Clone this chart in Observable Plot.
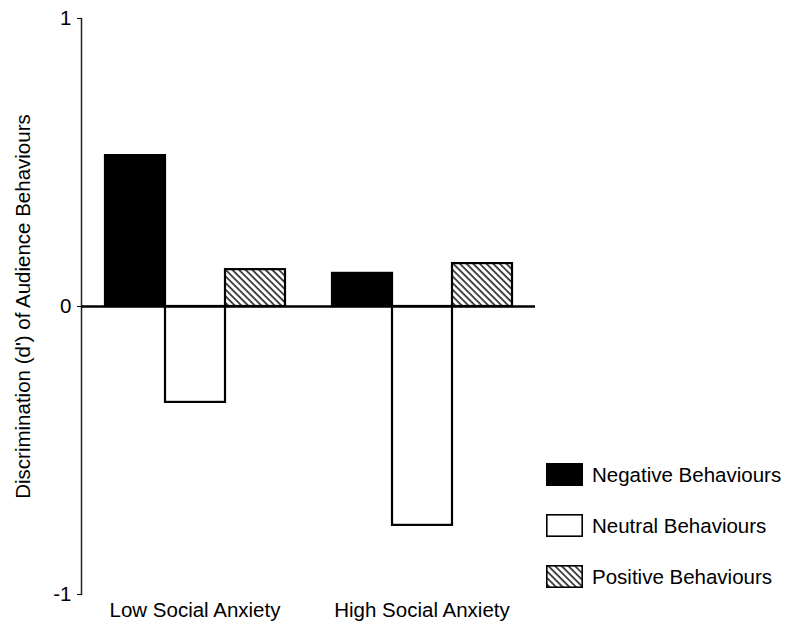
<!DOCTYPE html>
<html><head><meta charset="utf-8">
<script src="https://cdn.jsdelivr.net/npm/d3@7"></script>
<script src="https://cdn.jsdelivr.net/npm/@observablehq/plot@0.6"></script>
<style>
body{margin:0;background:#fff;}
#wrap{position:relative;width:785px;height:627px;font-family:"Liberation Sans",Arial,sans-serif;color:#000;}
.row{position:absolute;left:546px;display:flex;align-items:center;height:23px;font-size:20.5px;white-space:nowrap;}
.row svg{margin-right:9px;display:block;}
</style></head><body><div id="wrap"></div>
<script>
const groups = ["Low Social Anxiety", "High Social Anxiety"];
const behaviours = ["Negative Behaviours", "Neutral Behaviours", "Positive Behaviours"];
const lowValues = [0.524, -0.333, 0.128];
const highValues = [0.115, -0.76, 0.149];
const yTicks = [-1, 0, 1];
const fills = ["black", "white", "url(#hatch)"];
const yLabel = "Discrimination (d') of Audience Behaviours";

const data = [
  ...lowValues.map((v, i) => ({group: groups[0], behaviour: behaviours[i], value: v})),
  ...highValues.map((v, i) => ({group: groups[1], behaviour: behaviours[i], value: v}))
];

const chart = Plot.plot({
  width: 785, height: 627,
  marginLeft: 80, marginRight: 250, marginTop: 18, marginBottom: 33,
  style: {fontFamily: "Liberation Sans, Arial, sans-serif", fontSize: "20.5px", color: "black", background: "white"},
  fx: {domain: groups, padding: 0, axis: "bottom", label: null, tickSize: 0, tickPadding: 8},
  x: {domain: behaviours, paddingInner: 0, paddingOuter: 0.365, axis: null},
  y: {domain: [-1, 1], ticks: yTicks, tickFormat: d => d < 0 ? "-" + Math.abs(d) : String(d),
      tickSize: 4, tickPadding: 6, label: yLabel, labelAnchor: "center", labelOffset: 66, labelArrow: "none"},
  color: {domain: behaviours, range: fills},
  marks: [
    Plot.frame({anchor: "left", facetAnchor: "left", stroke: "#222", strokeWidth: 1.5}),
    Plot.barY(data, {fx: "group", x: "behaviour", y: "value", fill: "behaviour", stroke: "black", strokeWidth: 2.2}),
    Plot.ruleY([0], {stroke: "black", strokeWidth: 2.5})
  ]
});

const svg = chart.tagName.toLowerCase() === "svg" ? chart : chart.querySelector("svg");
const defs = d3.select(svg).insert("defs", ":first-child");
const pat = defs.append("pattern").attr("id", "hatch").attr("patternUnits", "userSpaceOnUse")
  .attr("width", 4.7).attr("height", 4.7).attr("patternTransform", "rotate(-45)");
pat.append("rect").attr("width", 4.7).attr("height", 4.7).attr("fill", "white");
pat.append("line").attr("x1", 1).attr("y1", 0).attr("x2", 1).attr("y2", 4.7).attr("stroke", "black").attr("stroke-width", 1.4);

const wrap = document.getElementById("wrap");
wrap.appendChild(chart);

const rowTops = [463, 514, 565];
behaviours.forEach((b, i) => {
  const row = document.createElement("div");
  row.className = "row";
  row.style.top = rowTops[i] + "px";
  const sw = i === 0 ? 2 : 1.6;
  row.innerHTML = `<svg width="37" height="23"><rect x="${sw/2}" y="${sw/2}" width="${37-sw}" height="${23-sw}" fill="${fills[i]}" stroke="black" stroke-width="${sw}"/></svg><span>${b}</span>`;
  wrap.appendChild(row);
});
</script></body></html>
